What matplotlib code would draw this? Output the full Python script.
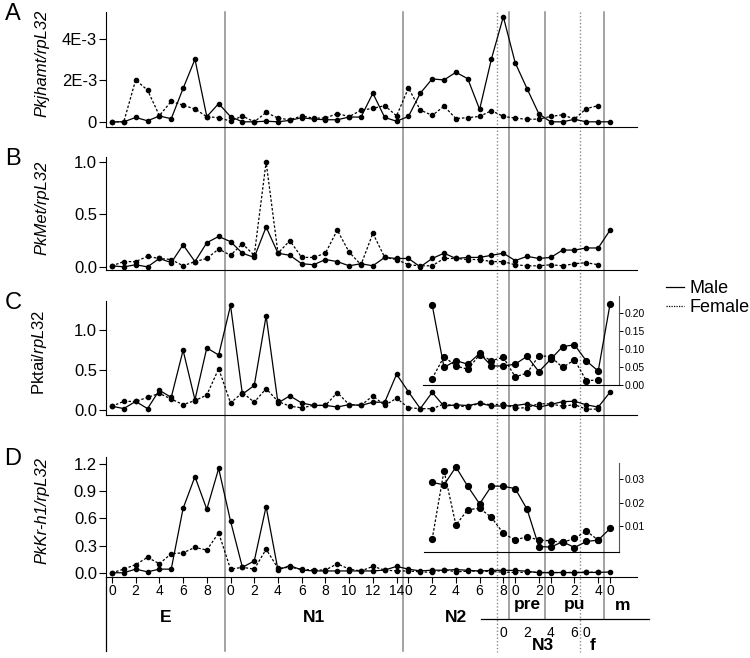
import matplotlib
matplotlib.use('Agg')
import matplotlib.pyplot as plt
import matplotlib.transforms as mtransforms
from matplotlib.lines import Line2D
import numpy as np

plt.rcParams['font.family'] = ['Liberation Sans', 'DejaVu Sans']
plt.rcParams['mathtext.fontset'] = 'custom'
plt.rcParams['mathtext.rm'] = 'Liberation Sans'
plt.rcParams['mathtext.it'] = 'Liberation Sans:italic'

# stages along the x axis (days per stage)
stages = ['E', 'N1', 'N2', 'pre', 'pu', 'm']
stage_days = [10, 15, 9, 3, 5, 1]
n3_start, n3_days = 33, 7     # N3 runs under the end of N2 / pre / pu
f_start = 40

# panel A  (x 1E-3)
jhamt_male = [0, 0, 0.21, 0.05, 0.28, 0.15, 1.61, 3.02, 0.25, 0.88,
              0.25, 0, 0, 0.03, 0, 0.07, 0.2, 0.13, 0.1, 0.1, 0.23, 0.23, 1.38, 0.21, 0.03,
              0.26, 1.38, 2.07, 2.02, 2.39, 2.08, 0.6, 3.04, 5.07,
              2.85, 1.6, 0.38,
              0, 0, 0.12, 0, 0,
              0]
jhamt_female = [0, 0, 2.02, 1.53, 0.3, 0.99, 0.8, 0.62, 0.25, 0.2,
                0.03, 0.28, 0, 0.45, 0.18, 0.1, 0.28, 0.18, 0.18, 0.4, 0.25, 0.56, 0.65, 0.78, 0.29,
                1.63, 0.57, 0.31, 0.75, 0.16, 0.2, 0.26, 0.54, 0.26,
                0.18, 0.12, 0.13,
                0.26, 0.34, 0.13, 0.64, 0.78]

# panel B
met_male = [0.01, 0.0, 0.02, 0.0, 0.08, 0.04, 0.21, 0.05, 0.23, 0.29,
            0.24, 0.13, 0.09, 0.38, 0.13, 0.11, 0.03, 0.02, 0.07, 0.05, 0.01, 0.03, 0.01, 0.09, 0.08,
            0.08, 0.0, 0.08, 0.13, 0.08, 0.09, 0.09, 0.11, 0.13,
            0.06, 0.1, 0.08,
            0.09, 0.16, 0.16, 0.18, 0.18,
            0.35]
met_female = [0.01, 0.05, 0.05, 0.1, 0.08, 0.07, 0.01, 0.05, 0.08, 0.17,
              0.11, 0.22, 0.11, 1.0, 0.13, 0.25, 0.09, 0.09, 0.13, 0.35, 0.14, 0.02, 0.32, 0.09, 0.07,
              0.02, 0.01, 0.01, 0.08, 0.08, 0.07, 0.07, 0.05, 0.05,
              0.02, 0.01, 0.01,
              0.02, 0.01, 0.03, 0.04, 0.02]

# panel C
tai_male = [0.05, 0.02, 0.11, 0.02, 0.25, 0.16, 0.75, 0.13, 0.78, 0.69,
            1.31, 0.2, 0.31, 1.18, 0.09, 0.18, 0.09, 0.06, 0.06, 0.04, 0.07, 0.06, 0.1, 0.1, 0.45,
            0.23, 0.02, 0.223, 0.049, 0.068, 0.058, 0.088, 0.053, 0.053,
            0.058, 0.08, 0.037,
            0.072, 0.107, 0.112, 0.067, 0.039,
            0.226]
tai_female = [0.05, 0.11, 0.11, 0.16, 0.21, 0.14, 0.07, 0.12, 0.19, 0.52,
              0.09, 0.22, 0.1, 0.27, 0.11, 0.05, 0.03, 0.06, 0.06, 0.22, 0.07, 0.06, 0.18, 0.06, 0.15,
              0.03, 0.02, 0.018, 0.079, 0.053, 0.044, 0.084, 0.068, 0.077,
              0.023, 0.033, 0.082,
              0.079, 0.049, 0.07, 0.012, 0.014]

# panel D
kr_male = [0.0, 0.0, 0.04, 0.01, 0.04, 0.04, 0.71, 1.06, 0.70, 1.15,
           0.57, 0.06, 0.13, 0.73, 0.03, 0.08, 0.03, 0.02, 0.02, 0.02, 0.02, 0.02, 0.02, 0.03, 0.07,
           0.04, 0.02, 0.0287, 0.0276, 0.0353, 0.027, 0.0194, 0.0271, 0.027,
           0.026, 0.0171, 0.001,
           0.0008, 0.0031, 0.0006, 0.0032, 0.0038,
           0.0088]
kr_female = [0.0, 0.04, 0.09, 0.17, 0.1, 0.21, 0.22, 0.28, 0.25, 0.44,
             0.04, 0.06, 0.04, 0.26, 0.05, 0.06, 0.04, 0.03, 0.03, 0.1, 0.04, 0.02, 0.07, 0.03, 0.02,
             0.02, 0.01, 0.0042, 0.0337, 0.0103, 0.0169, 0.0175, 0.0136, 0.0067,
             0.0038, 0.0053, 0.0038,
             0.0035, 0.0028, 0.0045, 0.0077, 0.0038]

inset_from = 27

W, H = 750, 658
fig = plt.figure(figsize=(W / 100, H / 100), dpi=100)

def rect(l, t, r, b):
    return [l / W, 1 - b / H, (r - l) / W, (b - t) / H]

XL = (-0.5, 44.27)
AX_L, AX_R = 106, 637

def xpx(v):
    return AX_L + (v - XL[0]) / (XL[1] - XL[0]) * (AX_R - AX_L)

panels = [
    ('A', [106, 12, 637, 127], np.array(jhamt_male) * 1e-3, np.array(jhamt_female) * 1e-3,
     (-0.00025, 0.0053), [0, 0.002, 0.004], ['0', '2E-3', '4E-3'], 'Pkjhamt/rpL32', True),
    ('B', [106, 156.7, 637, 270], met_male, met_female,
     (-0.03, 1.05), [0, 0.5, 1.0], ['0.0', '0.5', '1.0'], 'PkMet/rpL32', True),
    ('C', [106, 300.7, 637, 415], tai_male, tai_female,
     (-0.06, 1.37), [0, 0.5, 1.0], ['0.0', '0.5', '1.0'], r'Pktai/$\mathit{rpL32}$', False),
    ('D', [106, 456.7, 637, 577.3], kr_male, kr_female,
     (-0.05, 1.28), [0, 0.3, 0.6, 0.9, 1.2], ['0.0', '0.3', '0.6', '0.9', '1.2'], 'PkKr-h1/rpL32', True),
]

x = np.arange(len(kr_male))
xf = np.arange(len(kr_female))
dot = (0, (2, 1.5))
axes = {}
for letter, r, male, female, yl, yt, ytl, lab, ital in panels:
    ax = fig.add_axes(rect(*r))
    ax.patch.set_visible(False)
    ax.plot(x, male, color='k', lw=0.9, marker='o', ms=3)
    ax.plot(xf, female, color='k', lw=0.9, ls=dot, marker='o', ms=3)
    ax.set_xlim(*XL)
    ax.set_ylim(*yl)
    ax.set_yticks(yt)
    ax.set_yticklabels(ytl)
    ax.set_xticks([])
    for s in ['top', 'right']:
        ax.spines[s].set_visible(False)
    ax.tick_params(axis='y', direction='out', length=5, width=0.8, pad=1.5, labelsize=12)
    ax.set_ylabel(lab, fontsize=12, style='italic' if ital else 'normal')
    ax.yaxis.set_label_coords(-0.107, 0.55)
    fig.text(13 / W, 1 - (r[1] + 2) / H, letter, fontsize=17, ha='center', va='center')
    axes[letter] = ax

# insets for C and D
insets = [
    ('C', [xpx(26.2), 296, 619, 385], (0, 0.248), [0, 0.05, 0.1, 0.15, 0.2],
     ['0.00', '0.05', '0.10', '0.15', '0.20']),
    ('D', [xpx(26.3), 463.3, 619, 551.7], (-0.0012, 0.0369), [0.01, 0.02, 0.03],
     ['0.01', '0.02', '0.03']),
]
for letter, r, yl, yt, ytl in insets:
    male = [p[2] for p in panels if p[0] == letter][0]
    female = [p[3] for p in panels if p[0] == letter][0]
    l, t, rr, b = r
    ia = fig.add_axes(rect(l, t, rr, b))
    ia.patch.set_visible(False)
    x0 = XL[0] + (l - AX_L) / (AX_R - AX_L) * (XL[1] - XL[0])
    x1 = XL[0] + (rr - AX_L) / (AX_R - AX_L) * (XL[1] - XL[0])
    ia.plot(x[inset_from:], male[inset_from:], color='k', lw=0.9, marker='o', ms=4.2)
    ia.plot(xf[inset_from:], female[inset_from:], color='k', lw=0.9, ls=dot, marker='o', ms=4.2)
    ia.set_xlim(x0, x1)
    ia.set_ylim(*yl)
    ia.set_xticks([])
    ia.set_yticks(yt)
    ia.set_yticklabels(ytl)
    for s in ['top', 'left']:
        ia.spines[s].set_visible(False)
    ia.spines['right'].set_color('#555555')
    ia.yaxis.tick_right()
    ia.tick_params(axis='y', direction='out', length=3, width=0.7, pad=1, labelsize=7.5)

axD = axes['D']
# x tick labels for every stage
ticks, labels = [], []
off = 0
for n in stage_days:
    for d in range(0, n, 2):
        ticks.append(off + d)
        labels.append(str(d))
    off += n
axD.set_xticks(ticks)
axD.set_xticklabels(labels)
axD.tick_params(axis='x', direction='out', length=4, width=0.8, pad=1, labelsize=10)

bt = mtransforms.blended_transform_factory(axD.transData, fig.transFigure)
def fy(py):
    return 1 - py / H

# stage boundary lines
bounds = np.cumsum(stage_days)[:-1] - 0.5
for i, bx in enumerate(bounds):
    yb = 651 if i < 2 else 619
    fig.add_artist(Line2D([bx, bx], [fy(12), fy(yb)], transform=bt, color='#8a8a8a', lw=1.1, zorder=-1))
for bx in [n3_start - 0.5, f_start - 0.5]:
    fig.add_artist(Line2D([bx, bx], [fy(12), fy(652)], transform=bt, color='#8a8a8a', lw=1.0,
                          ls=(0, (1, 1.5)), zorder=-1))
fig.add_artist(Line2D([XL[0], XL[0]], [fy(577), fy(651)], transform=bt, color='k', lw=0.9))
fig.add_artist(Line2D([31.1, 45.3], [fy(619), fy(619)], transform=bt, color='k', lw=0.9))

# stage labels
centers = np.cumsum(stage_days) - np.array(stage_days) / 2 - 0.5
for name, c in zip(stages, centers):
    if name in ('E', 'N1', 'N2'):
        fig.text(c, fy(618), name, transform=bt, ha='center', va='center', fontsize=12.5, weight='bold')
    elif name == 'm':
        fig.text(c + 1.1, fy(605), name, transform=bt, ha='center', va='center', fontsize=12.5, weight='bold')
    else:
        fig.text(c, fy(605), name, transform=bt, ha='center', va='center', fontsize=12.5, weight='bold')

for d in range(0, n3_days, 2):
    fig.text(n3_start + d, fy(633), str(d), transform=bt, ha='center', va='center', fontsize=10)
fig.text(f_start, fy(633), '0', transform=bt, ha='center', va='center', fontsize=10)
fig.text(n3_start + 3.3, fy(646), 'N3', transform=bt, ha='center', va='center', fontsize=12.5, weight='bold')
fig.text(f_start + 0.5, fy(646), 'f', transform=bt, ha='center', va='center', fontsize=12.5, weight='bold')

# legend
handles = [Line2D([], [], color='k', lw=0.9), Line2D([], [], color='k', lw=0.9, ls=(0, (1, 1)))]
fig.legend(handles, ['Male', 'Female'], loc='center left', bbox_to_anchor=(650 / W, fy(298)),
           frameon=False, fontsize=13, handlelength=1.0, handletextpad=0.3, labelspacing=0.1)

fig.savefig('out.png', dpi=100)
